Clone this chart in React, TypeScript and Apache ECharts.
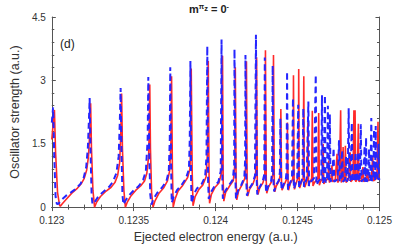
import React, { useEffect, useRef } from "react";
import * as echarts from "echarts";

const xTicks = { min: 0.123, max: 0.125, interval: 0.0005 };
const yTicks = { min: 0, max: 4.5, interval: 1.5 };
const panelLabel = "(d)";
const xName = "Ejected electron energy (a.u.)";
const yName = "Oscillator strength (a.u.)";

const redCurve: [number, number][] = [
  [0.123000, 1.60], [0.123009, 2.0], [0.123016, 2.30], [0.123023, 1.3], [0.123035, 0.35], [0.123047, 0.05],
  [0.123052, 0.02], [0.123064, 0.08], [0.123087, 0.18], [0.123122, 0.33], [0.123157, 0.45], [0.123181, 0.56],
  [0.123198, 0.68], [0.123213, 0.88], [0.123224, 1.2], [0.123232, 1.8], [0.123237, 2.46], [0.123242, 1.4],
  [0.123251, 0.4], [0.123261, 0.0], [0.123274, 0.12], [0.123297, 0.25], [0.123332, 0.38], [0.123362, 0.47],
  [0.123385, 0.58], [0.123402, 0.75], [0.123414, 1.05], [0.123421, 1.7], [0.123426, 2.69], [0.123431, 1.4],
  [0.123440, 0.4], [0.123449, 0.0], [0.123461, 0.12], [0.123484, 0.27], [0.123513, 0.40], [0.123542, 0.50],
  [0.123566, 0.62], [0.123580, 0.8], [0.123591, 1.2], [0.123595, 1.9], [0.123598, 2.90], [0.123602, 1.4],
  [0.123609, 0.35], [0.123618, 0.0], [0.123630, 0.15], [0.123653, 0.32], [0.123682, 0.45], [0.123706, 0.62],
  [0.123719, 0.85], [0.123727, 1.5], [0.123731, 3.10], [0.123736, 0.9], [0.123741, 0.0], [0.123753, 0.2],
  [0.123771, 0.38], [0.123800, 0.52], [0.123829, 0.70], [0.123843, 0.9], [0.123849, 1.6], [0.123851, 3.28],
  [0.123857, 0.8], [0.123862, 0.03], [0.123875, 0.25], [0.123898, 0.42], [0.123921, 0.52], [0.123942, 0.72],
  [0.123950, 1.3], [0.123955, 3.46], [0.123960, 0.6], [0.123963, 0.09], [0.123974, 0.3], [0.123997, 0.47],
  [0.124020, 0.57], [0.124035, 0.8], [0.124039, 1.4], [0.124042, 3.58], [0.124046, 0.6], [0.124050, 0.14],
  [0.124061, 0.35], [0.124085, 0.5], [0.124108, 0.63], [0.124117, 1.0], [0.124120, 3.31], [0.124125, 0.6],
  [0.124129, 0.17], [0.124140, 0.38], [0.124160, 0.52], [0.124178, 0.68], [0.124185, 1.1], [0.124188, 3.45],
  [0.124192, 0.6], [0.124196, 0.26], [0.124207, 0.42], [0.124228, 0.55], [0.124243, 0.72], [0.124248, 1.2],
  [0.124250, 3.55], [0.124254, 0.6], [0.124258, 0.3], [0.124269, 0.45], [0.124289, 0.58], [0.124300, 0.75],
  [0.124304, 3.71], [0.124309, 0.6], [0.124312, 0.33], [0.124323, 0.48], [0.124341, 0.6], [0.124350, 0.8],
  [0.124353, 3.60], [0.124358, 0.6], [0.124361, 0.36], [0.124370, 0.5], [0.124388, 0.62], [0.124395, 0.8],
  [0.124398, 2.32], [0.124402, 0.6], [0.124405, 0.4], [0.124417, 0.52], [0.124431, 0.64], [0.124436, 0.8],
  [0.124438, 2.0], [0.124442, 0.6], [0.124445, 0.4], [0.124455, 0.55], [0.124470, 0.66], [0.124473, 0.85],
  [0.124475, 3.12], [0.124479, 0.6], [0.124481, 0.42], [0.124490, 0.55], [0.124501, 0.68], [0.124505, 0.85],
  [0.124507, 3.27], [0.124510, 0.6], [0.124513, 0.45], [0.124522, 0.57], [0.124534, 0.68], [0.124538, 3.10],
  [0.124541, 0.6], [0.124544, 0.47], [0.124554, 0.58], [0.124560, 0.7], [0.124563, 2.0], [0.124567, 0.5],
  [0.124574, 0.58], [0.124586, 0.68], [0.124590, 2.28], [0.124594, 0.5], [0.124603, 0.58], [0.124624, 0.68],
  [0.124629, 2.23], [0.124633, 0.52], [0.124640, 0.6], [0.124652, 0.68], [0.124656, 1.5], [0.124660, 0.55],
  [0.124672, 0.62], [0.124686, 0.68], [0.124690, 1.10], [0.124694, 0.58], [0.124704, 0.66], [0.124710, 0.99],
  [0.124714, 0.6], [0.124730, 0.65], [0.124741, 1.26], [0.124745, 0.58], [0.124755, 0.66], [0.124763, 2.29],
  [0.124767, 0.58], [0.124774, 0.66], [0.124778, 1.42], [0.124782, 0.6], [0.124788, 0.66], [0.124792, 1.45],
  [0.124796, 0.58], [0.124810, 0.65], [0.124821, 1.30], [0.124825, 0.6], [0.124838, 0.66], [0.124844, 2.29],
  [0.124847, 0.65], [0.124851, 2.29], [0.124855, 0.6], [0.124864, 0.66], [0.124871, 1.97], [0.124875, 0.6],
  [0.124890, 0.65], [0.124899, 0.95], [0.124903, 0.6], [0.124920, 0.66], [0.124928, 0.90], [0.124932, 0.62],
  [0.124950, 0.67], [0.124959, 1.2], [0.124963, 0.62], [0.124984, 0.68], [0.124991, 2.02], [0.124995, 0.65],
  [0.125000, 0.68],
];

const blueCurve: [number, number][] = [
  [0.123000, 2.0], [0.123008, 2.36], [0.123015, 1.2], [0.123023, 0.25], [0.123031, 0.07], [0.123041, 0.08],
  [0.123058, 0.17], [0.123087, 0.27], [0.123117, 0.35], [0.123146, 0.43], [0.123175, 0.55], [0.123195, 0.7],
  [0.123210, 0.95], [0.123220, 1.4], [0.123226, 2.0], [0.123231, 2.58], [0.123237, 1.2], [0.123243, 0.3],
  [0.123248, 0.07], [0.123262, 0.12], [0.123285, 0.26], [0.123320, 0.38], [0.123350, 0.48], [0.123373, 0.6],
  [0.123394, 0.8], [0.123408, 1.2], [0.123415, 2.0], [0.123420, 2.82], [0.123426, 1.2], [0.123431, 0.3],
  [0.123437, 0.06], [0.123449, 0.15], [0.123472, 0.28], [0.123501, 0.40], [0.123531, 0.50], [0.123557, 0.64],
  [0.123574, 0.85], [0.123585, 1.6], [0.123589, 3.08], [0.123595, 1.2], [0.123601, 0.3], [0.123608, 0.06],
  [0.123621, 0.2], [0.123644, 0.34], [0.123674, 0.47], [0.123700, 0.62], [0.123714, 0.85], [0.123720, 1.6],
  [0.123723, 3.31], [0.123728, 1.0], [0.123732, 0.1], [0.123744, 0.25], [0.123764, 0.4], [0.123793, 0.53],
  [0.123819, 0.68], [0.123837, 0.9], [0.123842, 1.6], [0.123846, 3.46], [0.123850, 0.7], [0.123853, 0.09],
  [0.123866, 0.3], [0.123886, 0.44], [0.123915, 0.55], [0.123936, 0.72], [0.123944, 1.2], [0.123949, 3.81],
  [0.123954, 0.6], [0.123958, 0.19], [0.123971, 0.35], [0.123994, 0.5], [0.124017, 0.6], [0.124031, 0.85],
  [0.124036, 3.97], [0.124041, 0.6], [0.124044, 0.2], [0.124058, 0.38], [0.124082, 0.52], [0.124105, 0.65],
  [0.124113, 1.0], [0.124115, 3.74], [0.124121, 0.6], [0.124124, 0.2], [0.124137, 0.4], [0.124157, 0.53],
  [0.124175, 0.7], [0.124180, 1.1], [0.124182, 3.60], [0.124187, 0.6], [0.124191, 0.27], [0.124204, 0.43],
  [0.124225, 0.56], [0.124240, 0.74], [0.124246, 4.08], [0.124251, 0.6], [0.124254, 0.3], [0.124266, 0.46],
  [0.124286, 0.59], [0.124297, 0.78], [0.124300, 3.54], [0.124305, 0.6], [0.124308, 0.34], [0.124320, 0.49],
  [0.124338, 0.61], [0.124345, 0.82], [0.124348, 3.35], [0.124353, 0.6], [0.124357, 0.37], [0.124367, 0.51],
  [0.124385, 0.63], [0.124392, 0.82], [0.124395, 2.1], [0.124400, 0.6], [0.124403, 0.4], [0.124414, 0.53],
  [0.124428, 0.65], [0.124433, 0.85], [0.124436, 3.21], [0.124440, 0.6], [0.124442, 0.41], [0.124452, 0.56],
  [0.124466, 0.67], [0.124472, 2.58], [0.124476, 0.6], [0.124479, 0.43], [0.124487, 0.56], [0.124498, 0.68],
  [0.124504, 2.42], [0.124508, 0.6], [0.124510, 0.46], [0.124519, 0.58], [0.124530, 0.68], [0.124535, 2.34],
  [0.124539, 0.48], [0.124548, 0.59], [0.124556, 0.68], [0.124566, 2.5], [0.124570, 0.5], [0.124580, 0.6],
  [0.124600, 0.68], [0.124611, 3.13], [0.124615, 0.52], [0.124630, 0.63], [0.124645, 0.68], [0.124649, 2.65],
  [0.124653, 0.55], [0.124660, 0.66], [0.124667, 2.65], [0.124671, 0.58], [0.124680, 0.66], [0.124685, 2.4],
  [0.124689, 0.6], [0.124693, 0.66], [0.124697, 2.2], [0.124701, 0.6], [0.124712, 0.66], [0.124720, 1.4],
  [0.124724, 0.6], [0.124745, 0.66], [0.124753, 1.58], [0.124757, 0.6], [0.124766, 0.66], [0.124772, 1.35],
  [0.124776, 0.6], [0.124790, 0.66], [0.124796, 1.2], [0.124800, 0.6], [0.124806, 0.66], [0.124812, 2.34],
  [0.124816, 0.6], [0.124824, 0.66], [0.124831, 2.0], [0.124835, 0.6], [0.124847, 0.66], [0.124854, 1.3],
  [0.124858, 0.6], [0.124864, 0.66], [0.124870, 1.3], [0.124874, 0.6], [0.124880, 0.66], [0.124886, 1.96],
  [0.124890, 0.6], [0.124902, 0.66], [0.124909, 1.45], [0.124912, 0.6], [0.124915, 0.66], [0.124918, 1.65],
  [0.124922, 0.6], [0.124930, 0.66], [0.124936, 1.38], [0.124940, 0.61], [0.124945, 0.66], [0.124950, 2.11],
  [0.124954, 0.62], [0.124962, 0.67], [0.124967, 1.84], [0.124970, 0.62], [0.124973, 0.67], [0.124977, 1.92],
  [0.124981, 0.63], [0.124989, 0.67], [0.124994, 1.5], [0.124997, 0.64], [0.125000, 0.68],
];

const FONT = "'Liberation Sans', Arial, sans-serif";
const AXIS_COLOR = "#555";

export default function App() {
  const ref = useRef<HTMLDivElement>(null);
  useEffect(() => {
    if (!ref.current) return;
    document.body.style.margin = "0";
    const chart = echarts.init(ref.current, undefined, { renderer: "svg", width: 395, height: 248 });
    const fmt = (v: number) => String(+v.toFixed(4));
    const tickCommon = {
      axisLine: { show: true, lineStyle: { color: AXIS_COLOR, width: 1 } },
      axisTick: { show: true, inside: true, length: 4, lineStyle: { color: AXIS_COLOR } },
      minorTick: { show: true, splitNumber: 5, length: 2.5, lineStyle: { color: AXIS_COLOR } },
      splitLine: { show: false },
    };
    chart.setOption({
      animation: false,
      backgroundColor: "#fff",
      grid: { left: 38, right: 14, top: 17, bottom: 37, containLabel: false },
      xAxis: [
        {
          type: "value",
          ...xTicks,
          position: "bottom",
          ...tickCommon,
          axisLabel: { formatter: fmt, color: "#333", fontSize: 10, fontFamily: FONT, margin: 8 },
          name: xName,
          nameLocation: "middle",
          nameGap: 22,
          nameTextStyle: { color: "#333", fontSize: 12.5, fontFamily: FONT },
        },
        {
          type: "value",
          ...xTicks,
          position: "top",
          ...tickCommon,
          axisLabel: { show: false },
        },
      ],
      yAxis: [
        {
          type: "value",
          ...yTicks,
          position: "left",
          ...tickCommon,
          axisLabel: { color: "#333", fontSize: 10, fontFamily: FONT, margin: 6 },
          name: yName,
          nameLocation: "middle",
          nameGap: 24,
          nameTextStyle: { color: "#333", fontSize: 12.5, fontFamily: FONT },
        },
        {
          type: "value",
          ...yTicks,
          position: "right",
          ...tickCommon,
          axisLabel: { show: false },
        },
      ],
      graphic: [
        {
          type: "text",
          x: 209,
          y: 3,
          style: {
            text: "{m|m}{s|π}{z|z}{m| = 0}{s|-}",
            align: "center",
            rich: {
              m: { fontSize: 11, fontWeight: "bold", fontFamily: FONT, fill: "#222", verticalAlign: "bottom" },
              s: { fontSize: 7, fontWeight: "bold", fontFamily: FONT, fill: "#222", verticalAlign: "top" },
              z: { fontSize: 7.5, fontWeight: "bold", fontFamily: FONT, fill: "#222", verticalAlign: "middle" },
            },
          },
        },
        {
          type: "text",
          x: 60,
          y: 38,
          style: { text: panelLabel, fontSize: 12, fontFamily: FONT, fill: "#222" },
        },
      ],
      series: [
        {
          type: "line",
          data: redCurve,
          showSymbol: false,
          symbol: "none",
          lineStyle: { color: "#ff2a2a", width: 1.6 },
          z: 2,
        },
        {
          type: "line",
          data: blueCurve,
          showSymbol: false,
          symbol: "none",
          lineStyle: { color: "#2626ff", width: 2, type: [6, 4] },
          z: 3,
        },
      ],
    });
    return () => chart.dispose();
  }, []);
  return (
    <div
      ref={ref}
      style={{ position: "fixed", left: 0, top: 0, width: 395, height: 248 }}
    />
  );
}
